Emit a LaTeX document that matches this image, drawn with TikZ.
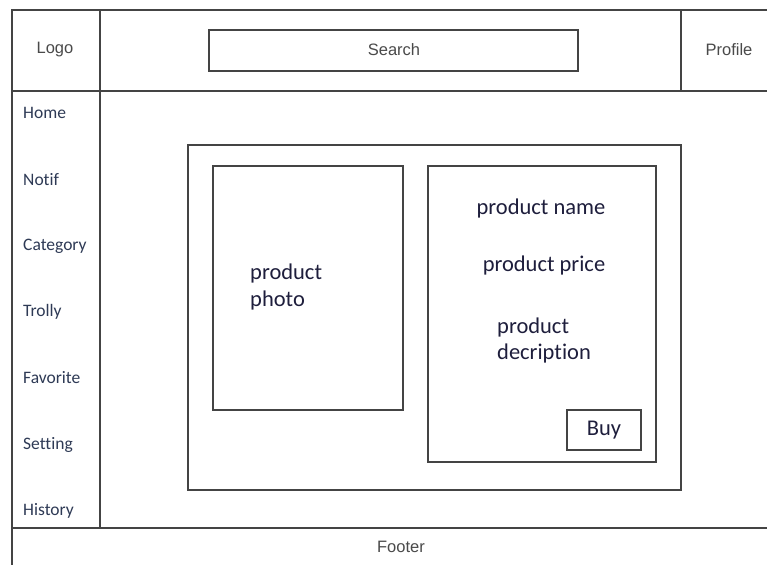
\documentclass[tikz,border=0pt]{standalone}
\usepackage{fontspec}
\setmainfont{Carlito}[Ligatures=CommonOff]
\newfontfamily\arialf{Liberation Sans}
\definecolor{linec}{HTML}{444444}
\definecolor{headc}{HTML}{4A4A4A}
\definecolor{sidec}{HTML}{2E3A55}
\definecolor{prodc}{HTML}{1E1E3C}
\tikzset{
  frame/.style={draw=linec, line width=1.4pt},
  boxline/.style={draw=linec, line width=1.3pt},
  headtxt/.style={font=\arialf\fontsize{16.5}{19}\selectfont, text=headc, inner sep=0pt},
  sidetxt/.style={font=\fontsize{17.5}{20}\selectfont, text=sidec, inner sep=0pt, anchor=west},
  prodtxt/.style={font=\fontsize{22.5}{26}\selectfont, text=prodc, inner sep=0pt},
}
\begin{document}
\begin{tikzpicture}[x=1pt,y=-1pt]
\useasboundingbox (0,0) rectangle (767,565);
\fill[white] (0,0) rectangle (767,565);
% frame
\draw[frame] (767,10) -- (12,10) -- (12,565);
\draw[frame] (12,91) -- (767,91);
\draw[frame] (12,528) -- (767,528);
\draw[frame] (100,10) -- (100,528);
\draw[frame] (681,10) -- (681,91);
% search box
\draw[boxline] (209,30) rectangle (578,71);
% product area
\draw[boxline] (188,145) rectangle (681,490);
\draw[boxline] (213,166) rectangle (403,410);
\draw[boxline] (428,166) rectangle (656,462);
\draw[boxline] (567,410) rectangle (641,450);
% header texts
\node[headtxt] (logo) at (55,50) {Logo};
\node[headtxt] (search) at (394,50) {Search};
\node[headtxt] (profile) at (729,50) {Profile};
\node[headtxt] (footer) at (401,547) {Footer};
% sidebar
\node[sidetxt] (home) at (23,113) {Home};
\node[sidetxt] (notif) at (23,180) {Notif};
\node[sidetxt] (cat) at (23,246) {Category};
\node[sidetxt] (trolly) at (23,312) {Trolly};
\node[sidetxt] (fav) at (23,378) {Favorite};
\node[sidetxt] (set) at (23,445) {Setting};
\node[sidetxt] (hist) at (23,511) {History};
% product texts
\node[prodtxt, anchor=west] (photo1) at (250,273) {product};
\node[prodtxt, anchor=west] (photo2) at (250,300) {photo};
\node[prodtxt] (pname) at (541,208) {product name};
\node[prodtxt] (pprice) at (544,265) {product price};
\node[prodtxt, anchor=west] (pdesc1) at (497,327) {product};
\node[prodtxt, anchor=west] (pdesc2) at (497,353) {decription};
\node[prodtxt] (buy) at (604,430) {Buy};
\end{tikzpicture}
\end{document}
